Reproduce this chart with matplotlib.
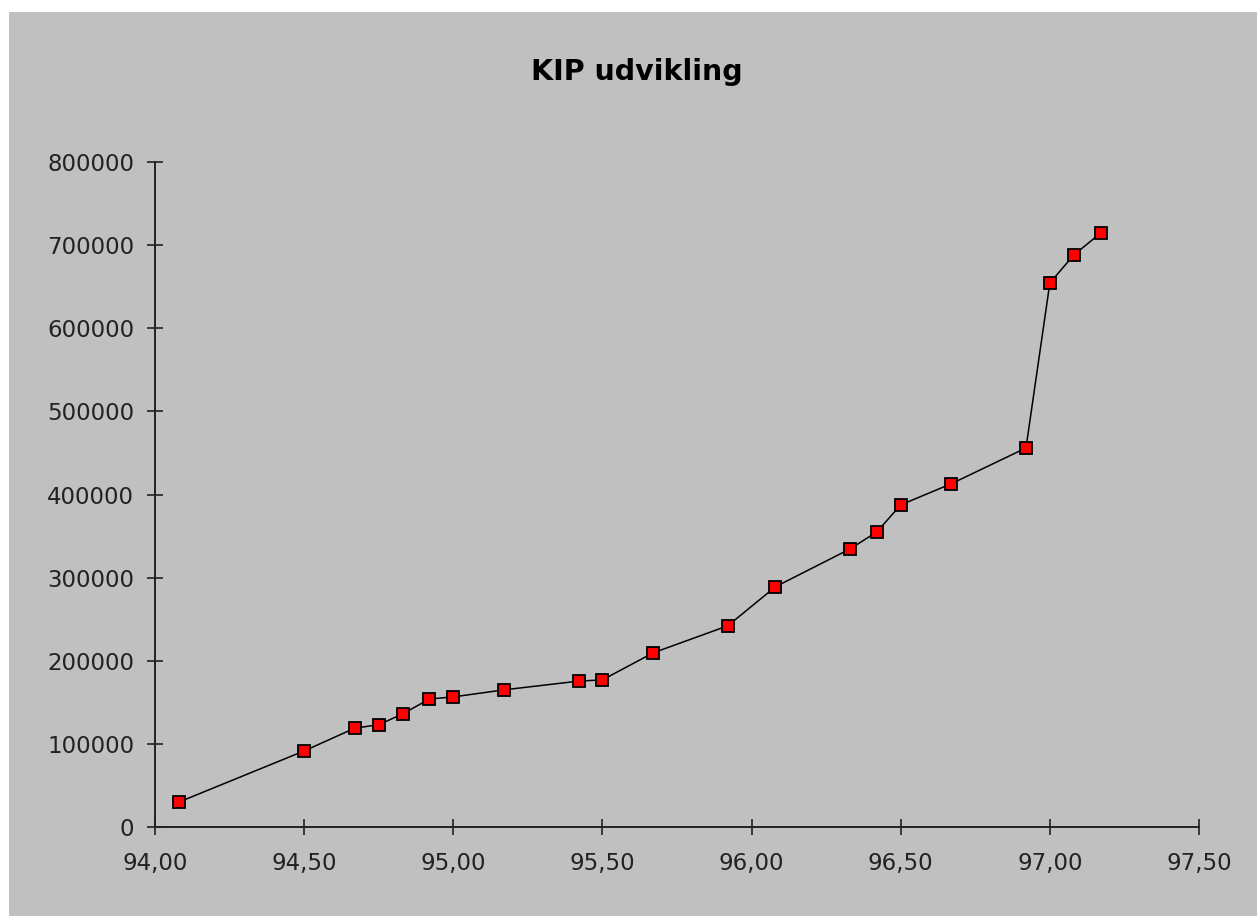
import matplotlib.pyplot as plt
from matplotlib.patches import Rectangle
from matplotlib.ticker import FuncFormatter

# KIP udvikling
tid = [94.08, 94.50, 94.67, 94.75, 94.83, 94.92, 95.00, 95.17, 95.42, 95.50,
       95.67, 95.92, 96.08, 96.33, 96.42, 96.50, 96.67, 96.92, 97.00, 97.08, 97.17]
kip = [30000, 91500, 119000, 123000, 136000, 154000, 156500, 165000, 175500, 177000,
       209500, 242000, 289000, 334500, 355000, 387500, 413000, 456000, 654500, 688000, 714500]

x_ticks = [94.0, 94.5, 95.0, 95.5, 96.0, 96.5, 97.0, 97.5]
y_ticks = [0, 100000, 200000, 300000, 400000, 500000, 600000, 700000, 800000]

grey = '#c0c0c0'
fig = plt.figure(figsize=(12.57, 9.16), dpi=100, facecolor='white')
fig.patches.append(Rectangle((9 / 1257, 0), 1, 1 - 12 / 916, transform=fig.transFigure,
                             facecolor=grey, edgecolor='none', zorder=-5))

ax = fig.add_axes([155 / 1257, 1 - 827 / 916, 1044 / 1257, 665 / 916])
ax.set_facecolor(grey)
ax.plot(tid, kip, color='black', linewidth=1.1, marker='s', markersize=9,
        markerfacecolor='#ff0000', markeredgecolor='black', markeredgewidth=1.3,
        clip_on=False)

ax.set_xlim(94.0, 97.5)
ax.set_ylim(0, 800000)
ax.set_xticks(x_ticks)
ax.set_yticks(y_ticks)
ax.xaxis.set_major_formatter(FuncFormatter(lambda v, p: ('%.2f' % v).replace('.', ',')))
ax.yaxis.set_major_formatter(FuncFormatter(lambda v, p: '%d' % v))

for side in ['top', 'right']:
    ax.spines[side].set_visible(False)
for side in ['left', 'bottom']:
    ax.spines[side].set_linewidth(1.4)
    ax.spines[side].set_color('#222222')

ax.tick_params(direction='inout', length=12, width=1.2, colors='#222222',
               labelsize=16.5, labelcolor='#222222')
ax.tick_params(axis='x', pad=12)
ax.tick_params(axis='y', pad=9)

fig.text(637 / 1257, 1 - 80 / 916, 'KIP udvikling', ha='center', va='baseline',
         fontsize=20.5, fontweight='bold', color='black')

fig.savefig('out.png', dpi=100, facecolor='white')
